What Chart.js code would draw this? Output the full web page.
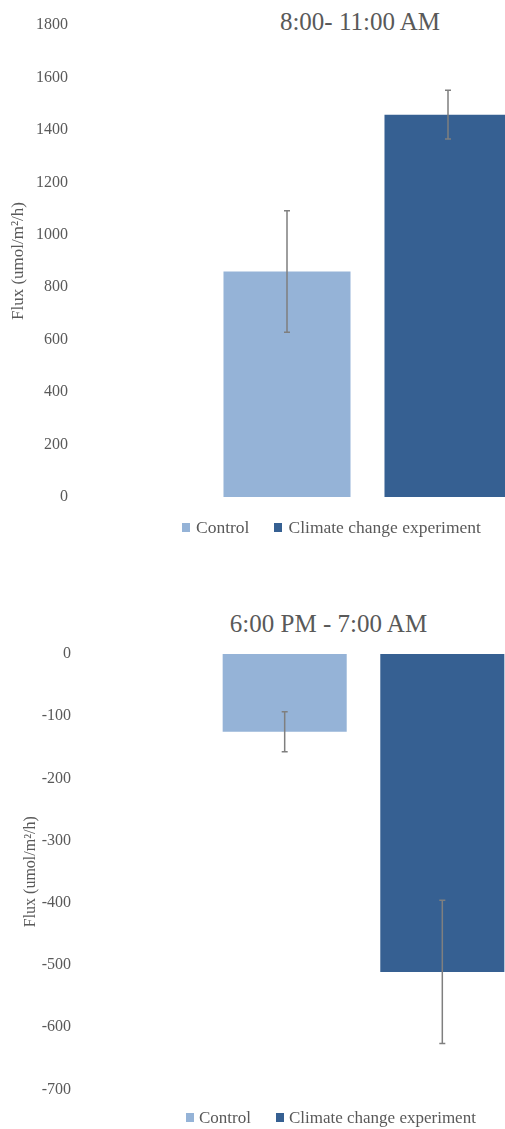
<!DOCTYPE html>
<html>
<head>
<meta charset="utf-8">
<title>Flux charts</title>
<script src="https://cdn.jsdelivr.net/npm/chart.js@4"></script>
<style>
  html, body { margin: 0; padding: 0; background: #fff; overflow: hidden; }
  body { width: 505px; height: 1129px; position: relative; font-family: "Liberation Serif", serif; color: #595959; }
  canvas { position: absolute; left: 0; }
  .title { position: absolute; left: 0; text-align: center; font-size: 25px; line-height: 25px; white-space: nowrap; }
  .legend { position: absolute; display: flex; align-items: center; font-size: 17.5px; line-height: 17px; white-space: nowrap; }
  .legend .sq { width: 8px; height: 9px; display: inline-block; }
</style>
</head>
<body>

<div class="title" style="top:9px; width:720px;">8:00- 11:00 AM</div>
<canvas id="day-chart" width="700" height="560" style="top:0px"></canvas>
<div class="legend" id="day-legend" style="left:182px; top:519px;"></div>

<div class="title" style="top:611px; width:657px;">6:00 PM - 7:00 AM</div>
<canvas id="night-chart" width="700" height="529" style="top:600px"></canvas>
<div class="legend" id="night-legend" style="left:186px; top:1109px; font-size:17px;"></div>

<script>
// data
const seriesNames = ['Control', 'Climate change experiment'];
const seriesColors = ['#95B3D7', '#366092'];

const dayLabels = ['8:00- 11:00 AM'];
const dayValues = [860, 1458];
const dayErrors = [232, 93];
const dayTicks = [0, 200, 400, 600, 800, 1000, 1200, 1400, 1600, 1800];

const nightLabels = ['6:00 PM - 7:00 AM'];
const nightValues = [-125, -511];
const nightErrors = [32, 115];
const nightTicks = [0, -100, -200, -300, -400, -500, -600, -700];

const axisTitle = 'Flux (umol/m\u00b2/h)';
const textColor = '#595959';
const serif = "'Liberation Serif', 'Times New Roman', serif";

// simple error bar plugin, uses the y scale to place the whiskers
const errorBars = {
  id: 'errorBars',
  afterDatasetsDraw(chart) {
    const ctx = chart.ctx;
    const y = chart.scales.y;
    ctx.save();
    ctx.strokeStyle = '#7F7F7F';
    ctx.lineWidth = 1.5;
    chart.data.datasets.forEach((ds, di) => {
      const meta = chart.getDatasetMeta(di);
      meta.data.forEach((bar, i) => {
        const v = ds.data[i];
        const e = ds.errors[i];
        const top = y.getPixelForValue(v + e);
        const bot = y.getPixelForValue(v - e);
        ctx.beginPath();
        ctx.moveTo(bar.x, top);
        ctx.lineTo(bar.x, bot);
        ctx.moveTo(bar.x - 3, top);
        ctx.lineTo(bar.x + 3, top);
        ctx.moveTo(bar.x - 3, bot);
        ctx.lineTo(bar.x + 3, bot);
        ctx.stroke();
      });
    });
    ctx.restore();
  }
};

function makeChart(id, labels, values, errors, ticks, o) {
  const datasets = seriesNames.map((name, i) => ({
    label: name,
    data: [values[i]],
    errors: [errors[i]],
    backgroundColor: seriesColors[i],
    categoryPercentage: o.catPct,
    barPercentage: o.barPct
  }));
  const ctx = document.getElementById(id).getContext('2d');
  return new Chart(ctx, {
    type: 'bar',
    data: { labels: labels, datasets: datasets },
    options: {
      responsive: false,
      animation: false,
      layout: { padding: { top: o.padTop, bottom: o.padBottom, left: 0, right: o.padRight } },
      plugins: { legend: { display: false }, title: { display: false }, tooltip: { enabled: false } },
      scales: {
        x: { display: false },
        y: {
          min: Math.min(...ticks),
          max: Math.max(...ticks),
          afterFit(scale) { scale.width = 80; },
          afterBuildTicks(scale) { scale.ticks = ticks.slice().sort((a, b) => a - b).map(v => ({ value: v })); },
          grid: { display: false, drawTicks: false },
          border: { display: false },
          ticks: {
            padding: o.tickPad,
            color: textColor,
            font: { family: serif, size: 16 },
            callback: v => String(v)
          },
          title: {
            display: true,
            text: axisTitle,
            color: textColor,
            font: { family: serif, size: o.titleSize },
            padding: { top: o.titlePad, bottom: 0 }
          }
        }
      }
    },
    plugins: [errorBars]
  });
}

function makeLegend(id, gap, space) {
  const el = document.getElementById(id);
  seriesNames.forEach((name, i) => {
    const sq = document.createElement('span');
    sq.className = 'sq';
    sq.style.background = seriesColors[i];
    sq.style.marginRight = gap + 'px';
    const txt = document.createElement('span');
    txt.textContent = name;
    if (i === 0) txt.style.marginRight = space + 'px';
    el.appendChild(sq);
    el.appendChild(txt);
  });
}

makeChart('day-chart', dayLabels, dayValues, dayErrors, dayTicks,
  { padTop: 25, padBottom: 63, padRight: 45, catPct: 0.56, barPct: 0.789, tickPad: 12, titleSize: 17, titlePad: 8 });

makeChart('night-chart', nightLabels, nightValues, nightErrors, nightTicks,
  { padTop: 54, padBottom: 39.5, padRight: 53, catPct: 0.556, barPct: 0.787, tickPad: 9, titleSize: 16, titlePad: 21 });

makeLegend('day-legend', 6, 25);
makeLegend('night-legend', 5, 25);
</script>
</body>
</html>
